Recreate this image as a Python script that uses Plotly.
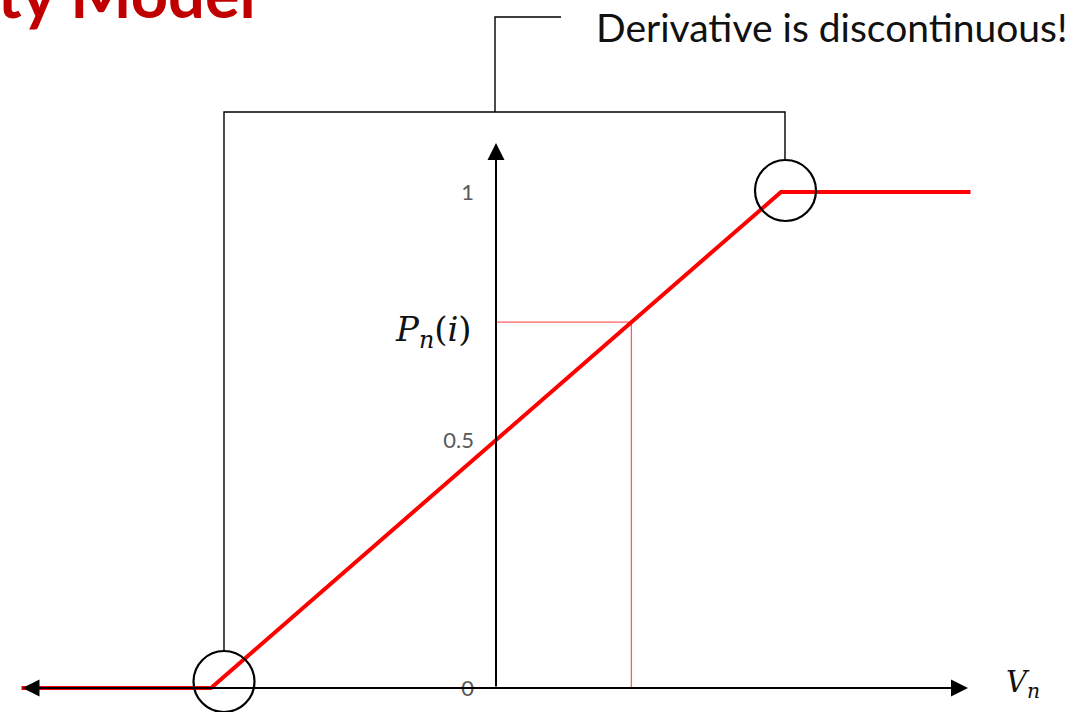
import plotly.graph_objects as go

# Piecewise-linear probability model: P = 0.5 + 0.5 * V, clipped to [0, 1]
v_points = [-1.665, -1.0, 1.0, 1.665]
p_points = [0.0, 0.0, 1.0, 1.0]

v_obs = 0.475
p_obs = 0.7375

tick_vals = [0, 0.5, 1]
tick_text = ["0", "0.5", "1"]

W, H = 1089, 712
# pixel geometry of the drawing (origin of the axes on the canvas)
ORIG_X, ORIG_Y = 496, 688
SX, SY = 285.0, 496.0


def vx(px):
    return (px - ORIG_X) / SX


def py(px):
    return (ORIG_Y - px) / SY


x_range = [vx(0), vx(W)]
y_range = [py(H), py(0)]

fig = go.Figure()

# guide lines from the observation to both axes
fig.add_trace(go.Scatter(
    x=[0, v_obs, v_obs], y=[p_obs, p_obs, 0],
    mode="lines", line=dict(color="rgba(255,40,40,0.75)", width=1.3),
    hoverinfo="skip", showlegend=False,
))

# probability curve
fig.add_trace(go.Scatter(
    x=v_points, y=p_points, mode="lines",
    line=dict(color="#FF0000", width=4),
    hoverinfo="skip", showlegend=False,
))

black = "#000000"
shapes = []
# circles around the two kinks
for cx, cy in [(224, 681.5), (785.5, 190.5)]:
    r = 30.5
    shapes.append(dict(type="circle", xref="x", yref="y",
                       x0=vx(cx - r), x1=vx(cx + r), y0=py(cy + r), y1=py(cy - r),
                       line=dict(color=black, width=2.2)))
# bracket joining the kinks, and its stem to the callout
shapes.append(dict(type="path", xref="x", yref="y",
                   path=f"M{vx(224)},{py(651)} L{vx(224)},{py(112)} L{vx(785)},{py(112)} L{vx(785)},{py(160)}",
                   line=dict(color=black, width=1.4)))
shapes.append(dict(type="path", xref="x", yref="y",
                   path=f"M{vx(495)},{py(112)} L{vx(495)},{py(17)} L{vx(561)},{py(17)}",
                   line=dict(color=black, width=1.4)))

annotations = [
    # horizontal axis with arrows at both ends
    dict(x=vx(968), y=0, ax=vx(21), ay=0, xref="x", yref="y", axref="x", ayref="y",
         showarrow=True, arrowhead=2, startarrowhead=2, arrowside="end+start",
         arrowsize=1.7, startarrowsize=1.7, arrowwidth=2, arrowcolor=black, text=""),
    # vertical axis
    dict(x=0, y=py(143), ax=0, ay=0, xref="x", yref="y", axref="x", ayref="y",
         showarrow=True, arrowhead=2, arrowsize=1.7, arrowwidth=2,
         arrowcolor=black, text=""),
    dict(text="Derivative is discontinuous!", xref="paper", yref="paper",
         x=594 / W, y=1 - 27 / H, xanchor="left", yanchor="middle", showarrow=False,
         font=dict(family="Lato", size=39, color="#111111")),
    dict(text="<i>P</i><sub><i>n</i></sub>(<i>i</i>)", xref="paper", yref="paper",
         x=474 / W, y=1 - 332 / H, xanchor="right", yanchor="middle", showarrow=False,
         font=dict(family="DejaVu Serif", size=34, color="#111111")),
    dict(text="<i>V</i><sub><i>n</i></sub>", xref="paper", yref="paper",
         x=1004 / W, y=1 - 684 / H, xanchor="left", yanchor="middle", showarrow=False,
         font=dict(family="DejaVu Serif", size=29, color="#111111")),
    dict(text="<b>Linear Probability Model</b>", xref="paper", yref="paper",
         x=258 / W, y=1 + 7 / H, xanchor="right", yanchor="middle", showarrow=False,
         font=dict(family="Lato", size=65, color="#C00000")),
]

fig.update_layout(
    width=W, height=H, autosize=False,
    margin=dict(l=0, r=0, t=0, b=0),
    paper_bgcolor="white", plot_bgcolor="white",
    shapes=shapes, annotations=annotations,
    xaxis=dict(range=x_range, showgrid=False, zeroline=False, showline=False,
               showticklabels=False, ticks="", fixedrange=True),
    yaxis=dict(range=y_range, showgrid=False, zeroline=False, showline=False,
               tickvals=tick_vals, ticktext=tick_text, ticks="",
               anchor="free", position=ORIG_X / W, ticklabelstandoff=22,
               tickfont=dict(family="Lato", size=22, color="#595959"),
               fixedrange=True),
)

fig.write_html("out.html", config={"displayModeBar": False})
